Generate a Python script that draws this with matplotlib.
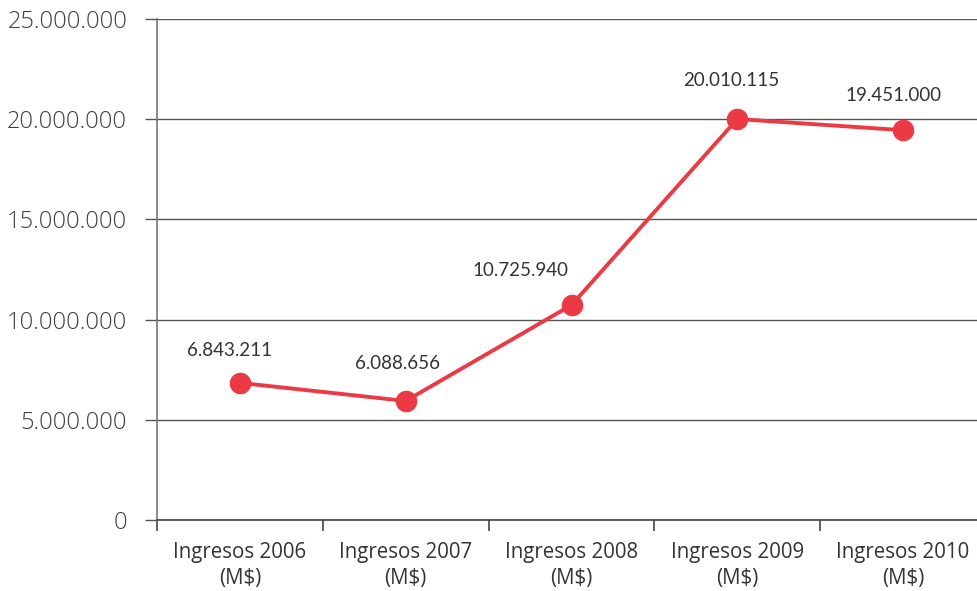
import matplotlib
matplotlib.use("Agg")
import matplotlib.pyplot as plt
from matplotlib.ticker import FuncFormatter

categories = ["Ingresos 2006\n(M$)", "Ingresos 2007\n(M$)", "Ingresos 2008\n(M$)",
              "Ingresos 2009\n(M$)", "Ingresos 2010\n(M$)"]
values = [6843211, 5940000, 10725940, 20010115, 19451000]
value_labels = ["6.843.211", "6.088.656", "10.725.940", "20.010.115", "19.451.000"]
y_ticks = [0, 5000000, 10000000, 15000000, 20000000, 25000000]

# label offsets in pixels (styling)
label_offsets = [(-10, 32), (-8, 37), (-51, 35), (-6, 38), (-10, 35)]

RED = "#EC3A44"
W, H = 977, 591
fig = plt.figure(figsize=(W / 100, H / 100), dpi=100)
ax = fig.add_axes([157 / W, (H - 520) / H, 829 / W, 501 / H])

x = list(range(len(values)))
ax.plot(x, values, color=RED, lw=2.8, marker="o", markersize=14.5,
        markerfacecolor=RED, markeredgecolor=RED, zorder=3, solid_capstyle="round",
        clip_on=False)

for xi, v, lab, (dx, dy) in zip(x, values, value_labels, label_offsets):
    ax.annotate(lab, (xi, v), xytext=(dx * 0.72, dy * 0.72), textcoords="offset points",
                ha="center", va="center", fontsize=13.5, family=["Lato", "DejaVu Sans"],
                color="#333333")

ax.set_xlim(-0.5, len(values) - 0.5)
ax.set_ylim(0, 25000000)
ax.set_yticks(y_ticks)
ax.yaxis.set_major_formatter(FuncFormatter(lambda v, p: f"{int(v):,}".replace(",", ".")))
ax.grid(axis="y", color="#555555", lw=1.0)
ax.set_axisbelow(True)

ax.set_xticks(x)
ax.set_xticklabels(categories)
ax.set_xticks([i - 0.5 for i in range(len(values) + 1)], minor=True)
ax.tick_params(axis="x", which="major", length=0, pad=16, labelsize=14.8, labelcolor="#333333")
ax.tick_params(axis="x", which="minor", length=8, width=1.2, color="#444444", direction="out")
ax.tick_params(axis="y", length=9, width=1.0, color="#555555", pad=12.5, labelsize=17,
               labelcolor="#404040")
for t in ax.get_xticklabels():
    t.set_family(["Open Sans", "DejaVu Sans"])
    t.set_linespacing(1.3)
for t in ax.get_yticklabels():
    t.set_family(["Open Sans", "DejaVu Sans"])
    t.set_fontweight("light")

for s in ["top", "right"]:
    ax.spines[s].set_visible(False)
ax.spines["left"].set_color("#777777")
ax.spines["left"].set_linewidth(1.2)
ax.spines["bottom"].set_color("#444444")
ax.spines["bottom"].set_linewidth(1.2)

fig.savefig("out.png", dpi=100)
